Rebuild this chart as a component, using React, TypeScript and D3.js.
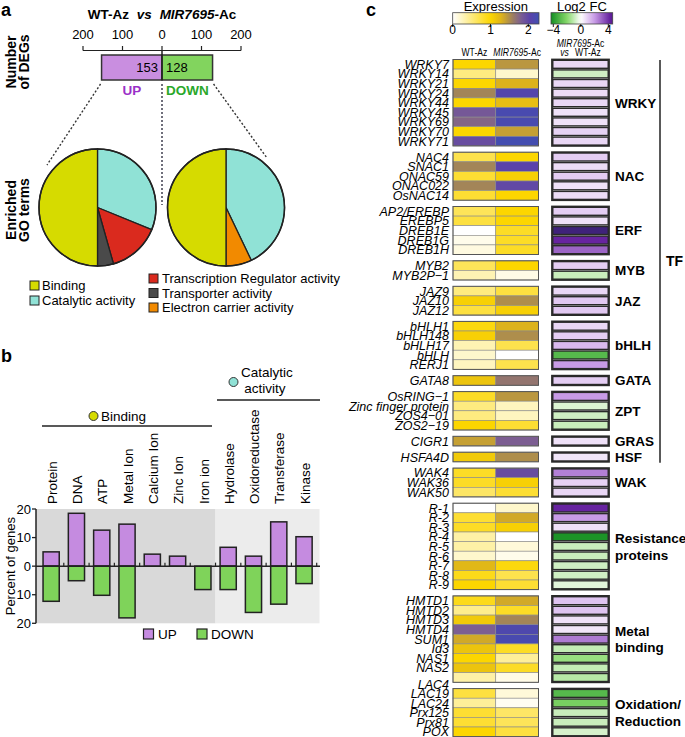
import React from 'react';
import * as d3 from 'd3';

const FONT = "'Liberation Sans', Arial, Helvetica, sans-serif";

// ---------- Panel a data ----------
const degLabels = ['UP', 'DOWN'];
const degCounts = [153, 128];
const degTicks = [-200, -100, 0, 100, 200];

const pieCategories = ['Catalytic activity', 'Transcription Regulator activity', 'Transporter activity', 'Electron carrier activity', 'Binding'];
const pieColors = ['#90e2d6', '#da2a1e', '#4a4a4a', '#f28a00', '#d6db00'];
const upPie = [31.2, 14.4, 4.4, 0, 50];
const downPie = [42.9, 0, 0, 7.1, 50];
const legendLeft = ['Binding', 'Catalytic activity'];
const legendRight = ['Transcription Regulator activity', 'Transporter activity', 'Electron carrier activity'];

// ---------- Panel b data ----------
const goTerms = ['Protein', 'DNA', 'ATP', 'Metal Ion', 'Calcium Ion', 'Zinc Ion', 'Iron ion', 'Hydrolase', 'Oxidoreductase', 'Transferase', 'Kinase'];
const upPct = [5.0, 18.5, 12.6, 14.7, 4.2, 3.5, 0, 6.6, 3.5, 15.5, 10.3];
const downPct = [12.3, 5.1, 10.2, 18.1, 0, 0, 8.2, 8.2, 16.2, 13.3, 6.1];
const pctTicks = [-20, -10, 0, 10, 20];

// ---------- Panel c data ----------
const groupNames = ['WRKY', 'NAC', 'ERF', 'MYB', 'JAZ', 'bHLH', 'GATA', 'ZPT', 'GRAS', 'HSF', 'WAK', 'Resistance\nproteins', 'Metal\nbinding', 'Oxidation/\nReduction'];
const groupSizes = [9, 5, 5, 2, 3, 5, 1, 4, 1, 1, 3, 9, 9, 5];
const tfGroupCount = 10;
const genes = [
  'WRKY7', 'WRKY14', 'WRKY21', 'WRKY24', 'WRKY44', 'WRKY45', 'WRKY69', 'WRKY70', 'WRKY71',
  'NAC4', 'SNAC1', 'ONAC59', 'ONAC022', 'OsNAC14',
  'AP2/EREBP', 'EREBP5', 'DREB1E', 'DREB1G', 'DREB1H',
  'MYB2', 'MYB2P\u22121',
  'JAZ9', 'JAZ10', 'JAZ12',
  'bHLH1', 'bHLH148', 'bHLH17', 'bHLH', 'RERJ1',
  'GATA8',
  'OsRING\u22121', 'Zinc finger protein', 'ZOS4\u221201', 'ZOS2\u221219',
  'CIGR1',
  'HSFA4D',
  'WAK4', 'WAK36', 'WAK50',
  'R-1', 'R-2', 'R-3', 'R-4', 'R-5', 'R-6', 'R-7', 'R-8', 'R-9',
  'HMTD1', 'HMTD2', 'HMTD3', 'HMTD4', 'SUM1', 'Id3', 'NAS1', 'NAS2', 'LAC4',
  'LAC19', 'LAC24', 'Prx125', 'Prx81', 'POX',
];
const wtAz = [
  1.0, 0.5, 1.0, 1.55, 1.0, 1.85, 1.75, 1.0, 1.95,
  0.7, 1.55, 0.8, 1.55, 0.8,
  0.65, 0.75, 0.0, 0.08, 0.12,
  0.65, 0.3,
  0.5, 1.05, 0.75,
  0.95, 1.05, 0.3, 0.2, 0.25,
  1.15,
  0.85, 0.5, 0.5, 1.0,
  1.4,
  1.1,
  0.85, 0.85, 0.6,
  0.0, 0.8, 0.85, 0.35, 0.35, 0.2, 1.25, 0.9, 1.0,
  0.9, 0.45, 1.1, 1.8, 1.35, 1.15, 1.0, 1.15, 0.35,
  0.75, 0.4, 0.8, 0.8, 1.0,
];
const mirAc = [
  1.45, 0.2, 1.3, 2.1, 1.2, 2.2, 2.2, 1.4, 2.25,
  1.0, 2.05, 1.05, 2.0, 1.0,
  1.0, 1.0, 0.85, 0.85, 0.85,
  1.0, 0.1,
  0.75, 1.5, 1.05,
  1.3, 1.5, 0.7, 0.0, 0.7,
  1.65,
  1.45, 0.25, 0.25, 0.8,
  1.8,
  1.5,
  1.95, 1.05, 0.8,
  0.2, 1.35, 1.05, 0.0, 0.15, 0.08, 0.95, 0.7, 0.8,
  1.35, 0.85, 1.55, 2.15, 2.2, 0.85, 0.4, 0.85, 0.1,
  0.15, 0.05, 0.6, 0.65, 0.75,
];
const log2fc = [
  0.8, -0.8, 0.8, 0.7, 0.8, 0.6, 0.6, 0.9, 0.8,
  1.0, 0.7, 1.0, 0.6, 0.7,
  1.0, 0.6, 5.2, 4.2, 3.0,
  1.0, -0.9,
  0.8, 1.1, 1.1,
  0.8, 1.0, 1.4, -3.0, 2.0,
  1.0,
  2.0, -0.6, -0.8, -0.9,
  0.6,
  0.5,
  2.5, 0.9, 0.8,
  4.2, 2.0, 0.6, -4.2, -0.9, -0.9, -0.8, -0.8, -0.5,
  1.2, 1.2, 0.6, 0.5, 2.6, -1.0, -1.7, -1.0, -1.2,
  -3.0, -2.3, -0.9, -0.9, -0.7,
];
const exprTicks = [0, 1, 2];
const fcTicks = [-4, 0, 4];

const exprColor = d3.scaleLinear<string>()
  .domain([0, 1, 1.3, 1.55, 1.8, 2.05, 2.3])
  .range(['#ffffff', '#fcd600', '#dcb21c', '#a38558', '#7c5e92', '#5a42aa', '#3d50b2'])
  .clamp(true);
const fcColor = d3.scaleLinear<string>()
  .domain([-4.5, -2, 0, 2, 4.5, 5.5])
  .range(['#0e8a1e', '#86d86a', '#ffffff', '#c89be6', '#5a1496', '#33286e'])
  .clamp(true);

function Condensed({ x, y, k = 0.8, children, size = 11 }: { x: number; y: number; k?: number; children: React.ReactNode; size?: number }) {
  return (
    <g transform={`translate(${x},${y}) scale(${k},1)`}>
      <text fontSize={size} textAnchor="middle">{children}</text>
    </g>
  );
}

function PanelA() {
  const x = d3.scaleLinear().domain([-200, 200]).range([83, 241]);
  const barY = 55, barH = 25;
  const pie = d3.pie<number>().sort(null).value(d => d);
  const r = 58.5;
  const arc = d3.arc<d3.PieArcDatum<number>>().innerRadius(0).outerRadius(r);
  const pies = [{ cx: 97.5, data: upPie }, { cx: 226, data: downPie }];
  const cy = 207.5;
  return (
    <g fontFamily={FONT}>
      <text x={1} y={16} fontSize={18} fontWeight="bold">a</text>
      <text x={162} y={19} fontSize={13.5} fontWeight="bold" textAnchor="middle">
        WT-Az <tspan fontStyle="italic" dx={4}>vs</tspan> <tspan fontStyle="italic" dx={4}>MIR7695</tspan>-Ac
      </text>
      <g transform="translate(15.5,62) rotate(-90)">
        <text fontSize={14} fontWeight="bold" textAnchor="middle">Number</text>
      </g>
      <g transform="translate(28.5,62) rotate(-90)">
        <text fontSize={14} fontWeight="bold" textAnchor="middle">of DEGs</text>
      </g>
      <line x1={x(-200)} x2={x(200)} y1={50.5} y2={50.5} stroke="#222" strokeWidth={1.2} />
      {degTicks.map(t => (
        <g key={t}>
          <line x1={x(t)} x2={x(t)} y1={46} y2={50.5} stroke="#222" strokeWidth={1.2} />
          <text x={x(t)} y={39} fontSize={13} textAnchor="middle">{Math.abs(t)}</text>
        </g>
      ))}
      <rect x={x(-degCounts[0])} y={barY} width={x(0) - x(-degCounts[0])} height={barH} fill="#c98ee0" stroke="#333" strokeWidth={1.5} />
      <rect x={x(0)} y={barY} width={x(degCounts[1]) - x(0)} height={barH} fill="#82d45e" stroke="#333" strokeWidth={1.5} />
      <line x1={x(0)} x2={x(0)} y1={50.5} y2={barY + barH} stroke="#222" strokeWidth={1.5} />
      <text x={x(0) - 4} y={barY + 17} fontSize={13} textAnchor="end">{degCounts[0]}</text>
      <text x={x(0) + 4} y={barY + 17} fontSize={13}>{degCounts[1]}</text>
      <text x={(x(-degCounts[0]) + x(0)) / 2} y={95} fontSize={13.5} fontWeight="bold" fill="#9b30c8" textAnchor="middle">{degLabels[0]}</text>
      <text x={(x(degCounts[1]) + x(0)) / 2} y={95} fontSize={13.5} fontWeight="bold" fill="#2aa82a" textAnchor="middle">{degLabels[1]}</text>
      <line x1={x(-degCounts[0]) - 1} y1={84} x2={47} y2={165} stroke="#333" strokeWidth={1.4} strokeDasharray="2,2" />
      <line x1={x(0)} y1={84} x2={x(0)} y2={205} stroke="#334" strokeWidth={1.4} strokeDasharray="2,2" />
      <line x1={x(degCounts[1]) + 1} y1={84} x2={267} y2={158} stroke="#333" strokeWidth={1.4} strokeDasharray="2,2" />
      <g transform="translate(15.5,210) rotate(-90)">
        <text fontSize={14} fontWeight="bold" textAnchor="middle">Enriched</text>
      </g>
      <g transform="translate(29,210) rotate(-90)">
        <text fontSize={14} fontWeight="bold" textAnchor="middle">GO terms</text>
      </g>
      {pies.map((p, i) => (
        <g key={i} transform={`translate(${p.cx},${cy})`}>
          {pie(p.data).map((s, j) => s.value > 0 ? (
            <path key={j} d={arc(s) || ''} fill={pieColors[j]} stroke="#222" strokeWidth={1.3} />
          ) : null)}
          <circle r={r} fill="none" stroke="#222" strokeWidth={1.5} />
        </g>
      ))}
      {legendLeft.map((l, i) => (
        <g key={l} transform={`translate(30,${281 + i * 15})`}>
          <rect width={9} height={9} fill={pieColors[pieCategories.indexOf(l)]} stroke="#222" strokeWidth={1} />
          <text x={12} y={9} fontSize={13}>{l}</text>
        </g>
      ))}
      {legendRight.map((l, i) => (
        <g key={l} transform={`translate(149,${274 + i * 14.5})`}>
          <rect width={9} height={9} fill={pieColors[pieCategories.indexOf(l)]} stroke="#222" strokeWidth={1} />
          <text x={13} y={9} fontSize={13}>{l}</text>
        </g>
      ))}
    </g>
  );
}

function PanelB() {
  const x = d3.scaleBand<string>().domain(goTerms).range([38.5, 316.7]).paddingInner(0.36).paddingOuter(0.18);
  const y = d3.scaleLinear().domain([-20, 20]).range([623.3, 509]);
  const bw = x.bandwidth();
  const step = x.step();
  const splitX = (x('Iron ion')! + bw + x('Hydrolase')!) / 2;
  return (
    <g fontFamily={FONT}>
      <text x={1} y={362} fontSize={18} fontWeight="bold">b</text>
      <rect x={36} y={y(20)} width={splitX - 36} height={y(-20) - y(20)} fill="#d9d9d9" />
      <rect x={splitX} y={y(20)} width={319.5 - splitX} height={y(-20) - y(20)} fill="#ececec" />
      <line x1={42} x2={212} y1={426} y2={426} stroke="#222" strokeWidth={1.5} />
      <circle cx={93.5} cy={416} r={4.5} fill="#d6db00" stroke="#333" strokeWidth={1} />
      <text x={101} y={421} fontSize={13.5}>Binding</text>
      <line x1={217} x2={320} y1={400} y2={400} stroke="#222" strokeWidth={1.5} />
      <circle cx={233.5} cy={382} r={4.5} fill="#90e2d6" stroke="#333" strokeWidth={1} />
      <text x={241} y={377} fontSize={13.5}>Catalytic</text>
      <text x={265} y={393} fontSize={13.5} textAnchor="middle">activity</text>
      {goTerms.map(t => (
        <g key={t} transform={`translate(${x(t)! + bw / 2 + 1},504) rotate(-90)`}>
          <text fontSize={13.5} dy="0.35em">{t}</text>
        </g>
      ))}
      {goTerms.map((t, i) => (
        <g key={'b' + t}>
          {upPct[i] > 0 && <rect x={x(t)} y={y(upPct[i])} width={bw} height={y(0) - y(upPct[i])} fill="#c58be0" stroke="#222" strokeWidth={1.5} />}
          {downPct[i] > 0 && <rect x={x(t)} y={y(0)} width={bw} height={y(-downPct[i]) - y(0)} fill="#7fd35a" stroke="#222" strokeWidth={1.5} />}
        </g>
      ))}
      <line x1={36} x2={320} y1={y(0)} y2={y(0)} stroke="#222" strokeWidth={1.5} />
      {goTerms.map(t => (
        <line key={'t' + t} x1={x(t)! + bw + (step - bw) / 2} x2={x(t)! + bw + (step - bw) / 2} y1={y(0)} y2={y(0) - 3.5} stroke="#222" strokeWidth={1.2} />
      ))}
      <line x1={36} x2={36} y1={y(20)} y2={y(-20)} stroke="#222" strokeWidth={1.5} />
      {pctTicks.map(v => (
        <g key={v}>
          <line x1={32} x2={36} y1={y(v)} y2={y(v)} stroke="#222" strokeWidth={1.3} />
          <text x={31} y={y(v)} dy="0.35em" fontSize={13} textAnchor="end">{Math.abs(v)}</text>
        </g>
      ))}
      <g transform={`translate(10,${y(0)}) rotate(-90)`}>
        <text fontSize={13} textAnchor="middle" dy="0.35em">Percent of genes</text>
      </g>
      <rect x={143.5} y={629} width={10} height={10} fill="#c58be0" stroke="#222" strokeWidth={1.2} />
      <text x={158} y={639} fontSize={13.5}>UP</text>
      <rect x={197} y={629} width={10} height={10} fill="#7fd35a" stroke="#222" strokeWidth={1.2} />
      <text x={211} y={639} fontSize={13.5}>DOWN</text>
    </g>
  );
}

function PanelC() {
  const rowH = 9.6, gap = 6.3, top = 59.5;
  const rowY: number[] = [];
  const groupSpans: { y0: number; y1: number }[] = [];
  let idx = 0;
  groupSizes.forEach((n, gi) => {
    const y0 = top + idx * rowH + gi * gap;
    for (let k = 0; k < n; k++) {
      rowY.push(top + idx * rowH + gi * gap);
      idx++;
    }
    groupSpans.push({ y0, y1: y0 + n * rowH });
  });
  const colX = d3.scaleBand<string>().domain(['WT-Az', 'MIR7695-Ac']).range([453, 538.5]);
  const cw = colX.bandwidth();
  const fcX0 = 552, fcX1 = 609;
  const ex = d3.scaleLinear().domain([0, 2]).range([452.7, 528.3]);
  const fx = d3.scaleLinear().domain([-4, 4]).range([553.3, 608.3]);
  const exprDomainMax = ex.invert(539);
  const fcMin = fx.invert(551), fcMax = fx.invert(612.7);
  const stopsE = d3.range(0, 1.0001, 0.05).map(t => ({ o: t, c: exprColor(t * exprDomainMax) }));
  const stopsF = d3.range(0, 1.0001, 0.05).map(t => ({ o: t, c: fcColor(fcMin + t * (fcMax - fcMin)) }));
  const tfEnd = groupSpans[tfGroupCount - 1].y1 + 1;
  return (
    <g fontFamily={FONT}>
      <defs>
        <linearGradient id="gE" x1="0" x2="1" y1="0" y2="0">
          {stopsE.map((s, i) => <stop key={i} offset={s.o} stopColor={s.c} />)}
        </linearGradient>
        <linearGradient id="gF" x1="0" x2="1" y1="0" y2="0">
          {stopsF.map((s, i) => <stop key={i} offset={s.o} stopColor={s.c} />)}
        </linearGradient>
      </defs>
      <text x={366} y={16} fontSize={18} fontWeight="bold">c</text>
      <text x={(ex(0) + 539) / 2} y={10.5} fontSize={13} textAnchor="middle">Expression</text>
      <rect x={ex(0)} y={12.7} width={539 - ex(0)} height={11.3} fill="url(#gE)" stroke="#444" strokeWidth={0.8} />
      {exprTicks.map(t => (
        <g key={t}>
          <line x1={ex(t)} x2={ex(t)} y1={24} y2={27} stroke="#222" />
          <text x={ex(t)} y={34} fontSize={12} textAnchor="middle">{t}</text>
        </g>
      ))}
      <text x={(551 + 612.7) / 2} y={10.5} fontSize={13} textAnchor="middle">Log2 FC</text>
      <rect x={551} y={12.7} width={61.7} height={11.3} fill="url(#gF)" stroke="#444" strokeWidth={0.8} />
      {fcTicks.map(t => (
        <g key={t}>
          <line x1={fx(t)} x2={fx(t)} y1={24} y2={27} stroke="#222" />
          <text x={fx(t)} y={34} fontSize={12} textAnchor="middle">{t < 0 ? '\u2212' + Math.abs(t) : t}</text>
        </g>
      ))}
      <Condensed x={colX('WT-Az')! + cw / 2} y={56} k={0.78}>WT-Az</Condensed>
      <Condensed x={colX('MIR7695-Ac')! + cw / 2} y={56} k={0.78}><tspan fontStyle="italic">MIR7695</tspan>-Ac</Condensed>
      <Condensed x={(fcX0 + fcX1) / 2} y={46.5} k={0.78}><tspan fontStyle="italic">MIR7695</tspan>-Ac</Condensed>
      <Condensed x={(fcX0 + fcX1) / 2} y={56} k={0.78}><tspan fontStyle="italic">vs</tspan><tspan dx={8}>WT-Az</tspan></Condensed>
      {genes.map((g, i) => (
        <g key={g + i}>
          <rect x={colX('WT-Az')} y={rowY[i]} width={cw} height={rowH} fill={exprColor(wtAz[i])} stroke="#8a8a8a" strokeWidth={0.6} />
          <rect x={colX('MIR7695-Ac')} y={rowY[i]} width={cw} height={rowH} fill={exprColor(mirAc[i])} stroke="#8a8a8a" strokeWidth={0.6} />
          <rect x={fcX0 + 0.8} y={rowY[i] + 0.8} width={fcX1 - fcX0 - 1.6} height={rowH - 1.6} fill={fcColor(log2fc[i])} stroke="#2a2a2a" strokeWidth={1.4} />
          <text x={449} y={rowY[i] + rowH / 2 + (g === 'LAC4' ? 6.5 : 0)} dy="0.36em" fontSize={12.5} fontStyle="italic" textAnchor="end">{g}</text>
        </g>
      ))}
      {groupSpans.map((s, gi) => {
        const lines = groupNames[gi].split('\n');
        const cyy = (s.y0 + s.y1) / 2;
        return (
          <g key={gi}>
            <rect x={453} y={s.y0} width={85.5} height={s.y1 - s.y0} fill="none" stroke="#555" strokeWidth={1} />
            <rect x={fcX0} y={s.y0} width={fcX1 - fcX0} height={s.y1 - s.y0} fill="none" stroke="#2a2a2a" strokeWidth={1.8} />
            {lines.map((l, li) => (
              <text key={li} x={615} y={cyy + (li - (lines.length - 1) / 2) * 16.5} dy="0.36em" fontSize={13.5} fontWeight="bold">{l}</text>
            ))}
          </g>
        );
      })}
      <line x1={660} x2={660} y1={top + 0.5} y2={tfEnd} stroke="#222" strokeWidth={1.5} />
      <text x={666} y={(top + tfEnd) / 2} dy="0.36em" fontSize={14} fontWeight="bold">TF</text>
    </g>
  );
}

export default function App() {
  return (
    <svg width={685} height={737} style={{ position: 'absolute', left: 0, top: 0, background: '#fff' }}>
      <rect width={685} height={737} fill="#fff" />
      <PanelA />
      <PanelB />
      <PanelC />
    </svg>
  );
}
